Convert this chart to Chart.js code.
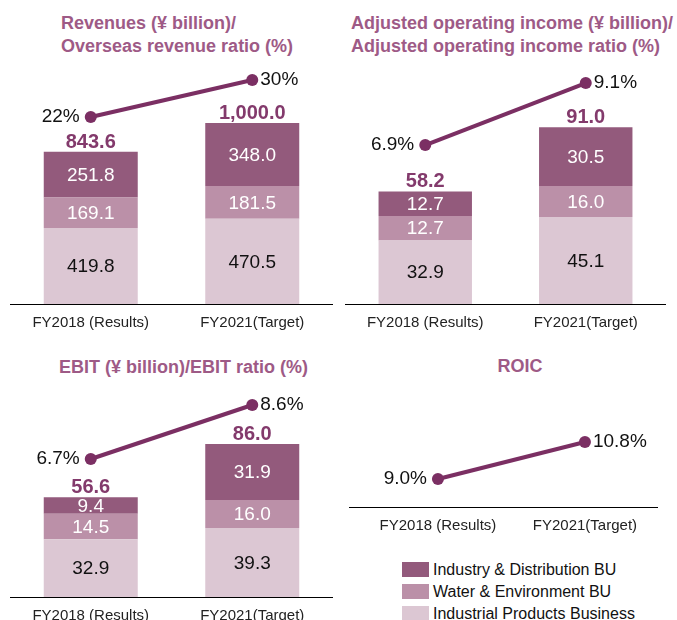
<!DOCTYPE html>
<html>
<head>
<meta charset="utf-8">
<script src="https://cdn.jsdelivr.net/npm/chart.js@4.4.1/dist/chart.umd.min.js"></script>
<style>
  html, body { margin: 0; padding: 0; background: #fff; overflow: hidden; }
  body { width: 677px; height: 620px; position: relative; font-family: "Liberation Sans", Arial, sans-serif; }
  canvas { position: absolute; }
  .title { position: absolute; font-size: 18px; font-weight: bold; line-height: 23px; color: #9e5a86; white-space: nowrap; }
  #legend { position: absolute; left: 402px; top: 562px; }
  .row { display: flex; align-items: center; height: 15px; margin-bottom: 7px; font-size: 16px; color: #111; }
  .box { width: 27px; height: 15px; margin-right: 4px; }
</style>
</head>
<body>
<canvas id="revChart" width="323" height="282" style="left:10px;top:60px"></canvas>
<canvas id="aoiChart" width="321" height="282" style="left:345px;top:60px"></canvas>
<canvas id="ebitChart" width="323" height="245" style="left:10px;top:390px"></canvas>
<canvas id="roicChart" width="309" height="155" style="left:349px;top:390px"></canvas>

<div class="title" style="left:61px;top:12px">Revenues (¥ billion)/<br>Overseas revenue ratio (%)</div>
<div class="title" style="left:351px;top:12px">Adjusted operating income (¥ billion)/<br>Adjusted operating income ratio (%)</div>
<div class="title" style="left:59px;top:356px">EBIT (¥ billion)/EBIT ratio (%)</div>
<div class="title" style="left:420px;top:355px;width:200px;text-align:center">ROIC</div>
<div id="legend"></div>

<script>
// ===== data =====
const categories = ["FY2018 (Results)", "FY2021(Target)"];
const seriesNames = ["Industry & Distribution BU", "Water & Environment BU", "Industrial Products Business"];

const revIndustrial = [419.8, 470.5];
const revWater      = [169.1, 181.5];
const revIndustry   = [251.8, 348.0];
const revTotal      = [843.6, 1000.0];
const overseasRatio = [22, 30];

const aoiIndustrial = [32.9, 45.1];
const aoiWater      = [12.7, 16.0];
const aoiIndustry   = [12.7, 30.5];
const aoiTotal      = [58.2, 91.0];
const aoiRatio      = [6.9, 9.1];

const ebitIndustrial = [32.9, 39.3];
const ebitWater      = [14.5, 16.0];
const ebitIndustry   = [9.4, 31.9];
const ebitTotal      = [56.6, 86.0];
const ebitRatio      = [6.7, 8.6];

const roic = [9.0, 10.8];

// ===== styles =====
const darkColor = "#935a7c";
const midColor = "#bb90a8";
const lightColor = "#dcc7d3";
const lineColor = "#7b2f63";
const totalColor = "#833a6c";
const fontFamily = '"Liberation Sans", Arial, sans-serif';

// legend
const legendColors = [darkColor, midColor, lightColor];
document.getElementById("legend").innerHTML = seriesNames.map((name, i) =>
    '<div class="row"><div class="box" style="background:' + legendColors[i] + '"></div>' + name + '</div>'
).join("");

function fmtTotal(v) {
    return v.toLocaleString("en-US", { minimumFractionDigits: 1, maximumFractionDigits: 1 });
}

// segment values, totals on top and ratio labels next to the points
const valueLabels = {
    id: "valueLabels",
    afterDatasetsDraw(chart, args, opts) {
        const ctx = chart.ctx;
        let topMeta = null;
        ctx.save();
        chart.data.datasets.forEach((ds, di) => {
            const meta = chart.getDatasetMeta(di);
            if (meta.type === "line") {
                ctx.font = "19px " + fontFamily;
                ctx.fillStyle = "#111";
                ctx.textBaseline = "middle";
                meta.data.forEach((pt, i) => {
                    const v = typeof ds.data[i] === "object" ? ds.data[i].y : ds.data[i];
                    const label = v.toFixed(opts.decimals) + "%";
                    if (i === 0) {
                        ctx.textAlign = "right";
                        ctx.fillText(label, pt.x - 11, pt.y);
                    } else {
                        ctx.textAlign = "left";
                        ctx.fillText(label, pt.x + 8, pt.y);
                    }
                });
                return;
            }
            topMeta = meta;
            ctx.font = "19px " + fontFamily;
            ctx.textAlign = "center";
            ctx.textBaseline = "middle";
            ctx.fillStyle = ds.labelColor;
            meta.data.forEach((bar, i) => {
                ctx.fillText(ds.data[i].toFixed(1), bar.x, (bar.y + bar.base) / 2 + 1);
            });
        });
        if (opts.totals && topMeta) {
            ctx.font = "bold 20px " + fontFamily;
            ctx.fillStyle = totalColor;
            ctx.textAlign = "center";
            ctx.textBaseline = "alphabetic";
            topMeta.data.forEach((bar, i) => {
                ctx.fillText(fmtTotal(opts.totals[i]), bar.x, bar.y - 4);
            });
        }
        ctx.restore();
    }
};

const xTicks = {
    color: "#222",
    padding: 10,
    font: { family: fontFamily, size: 15 }
};

function createStackChart(id, industrial, water, industry, totals, ratio, yMax, y2Min, y2Max, decimals) {
    return new Chart(document.getElementById(id), {
        type: "bar",
        data: {
            labels: categories,
            datasets: [
                { type: "line", data: ratio, yAxisID: "y2", borderColor: lineColor, borderWidth: 4,
                  pointRadius: 6, pointBackgroundColor: lineColor, pointBorderWidth: 0, order: 0 },
                { label: seriesNames[2], data: industrial, backgroundColor: lightColor, labelColor: "#111", order: 1 },
                { label: seriesNames[1], data: water, backgroundColor: midColor, labelColor: "#fff", order: 1 },
                { label: seriesNames[0], data: industry, backgroundColor: darkColor, labelColor: "#fff", order: 1 }
            ]
        },
        options: {
            responsive: false,
            animation: false,
            layout: { padding: 0, autoPadding: false },
            datasets: { bar: { categoryPercentage: 1, barPercentage: 0.582 } },
            plugins: {
                legend: { display: false },
                tooltip: { enabled: false },
                valueLabels: { totals: totals, decimals: decimals }
            },
            scales: {
                x: {
                    stacked: true,
                    grid: { display: false, drawTicks: false },
                    border: { display: true, color: "#000", width: 1 },
                    ticks: xTicks
                },
                y: { stacked: true, display: false, min: 0, max: yMax },
                y2: { display: false, min: y2Min, max: y2Max }
            }
        },
        plugins: [valueLabels]
    });
}

createStackChart("revChart", revIndustrial, revWater, revIndustry, revTotal, overseasRatio, 1348, -18.43, 34.32, 0);
createStackChart("aoiChart", aoiIndustrial, aoiWater, aoiIndustry, aoiTotal, aoiRatio, 126.4, 1.258, 9.917, 1);
createStackChart("ebitChart", ebitIndustrial, ebitWater, ebitIndustry, ebitTotal, ebitRatio, 117.9, 1.844, 9.127, 1);

// ROIC line on a linear x so the points sit where the original has them
new Chart(document.getElementById("roicChart"), {
    type: "line",
    data: {
        datasets: [{
            data: roic.map((v, i) => ({ x: i, y: v })),
            borderColor: lineColor,
            borderWidth: 4,
            pointRadius: 6,
            pointBackgroundColor: lineColor,
            pointBorderWidth: 0
        }]
    },
    options: {
        responsive: false,
        animation: false,
        layout: { padding: 0, autoPadding: false },
        plugins: {
            legend: { display: false },
            tooltip: { enabled: false },
            valueLabels: { totals: null, decimals: 1 }
        },
        scales: {
            x: {
                type: "linear",
                min: -0.605,
                max: 1.497,
                grid: { display: false, drawTicks: false },
                border: { display: true, color: "#000", width: 1 },
                afterBuildTicks: scale => { scale.ticks = [{ value: 0 }, { value: 1 }]; },
                ticks: Object.assign({}, xTicks, { callback: v => categories[v] })
            },
            y: { display: false, min: 7.636, max: 13.33 }
        }
    },
    plugins: [valueLabels]
});
</script>
</body>
</html>
